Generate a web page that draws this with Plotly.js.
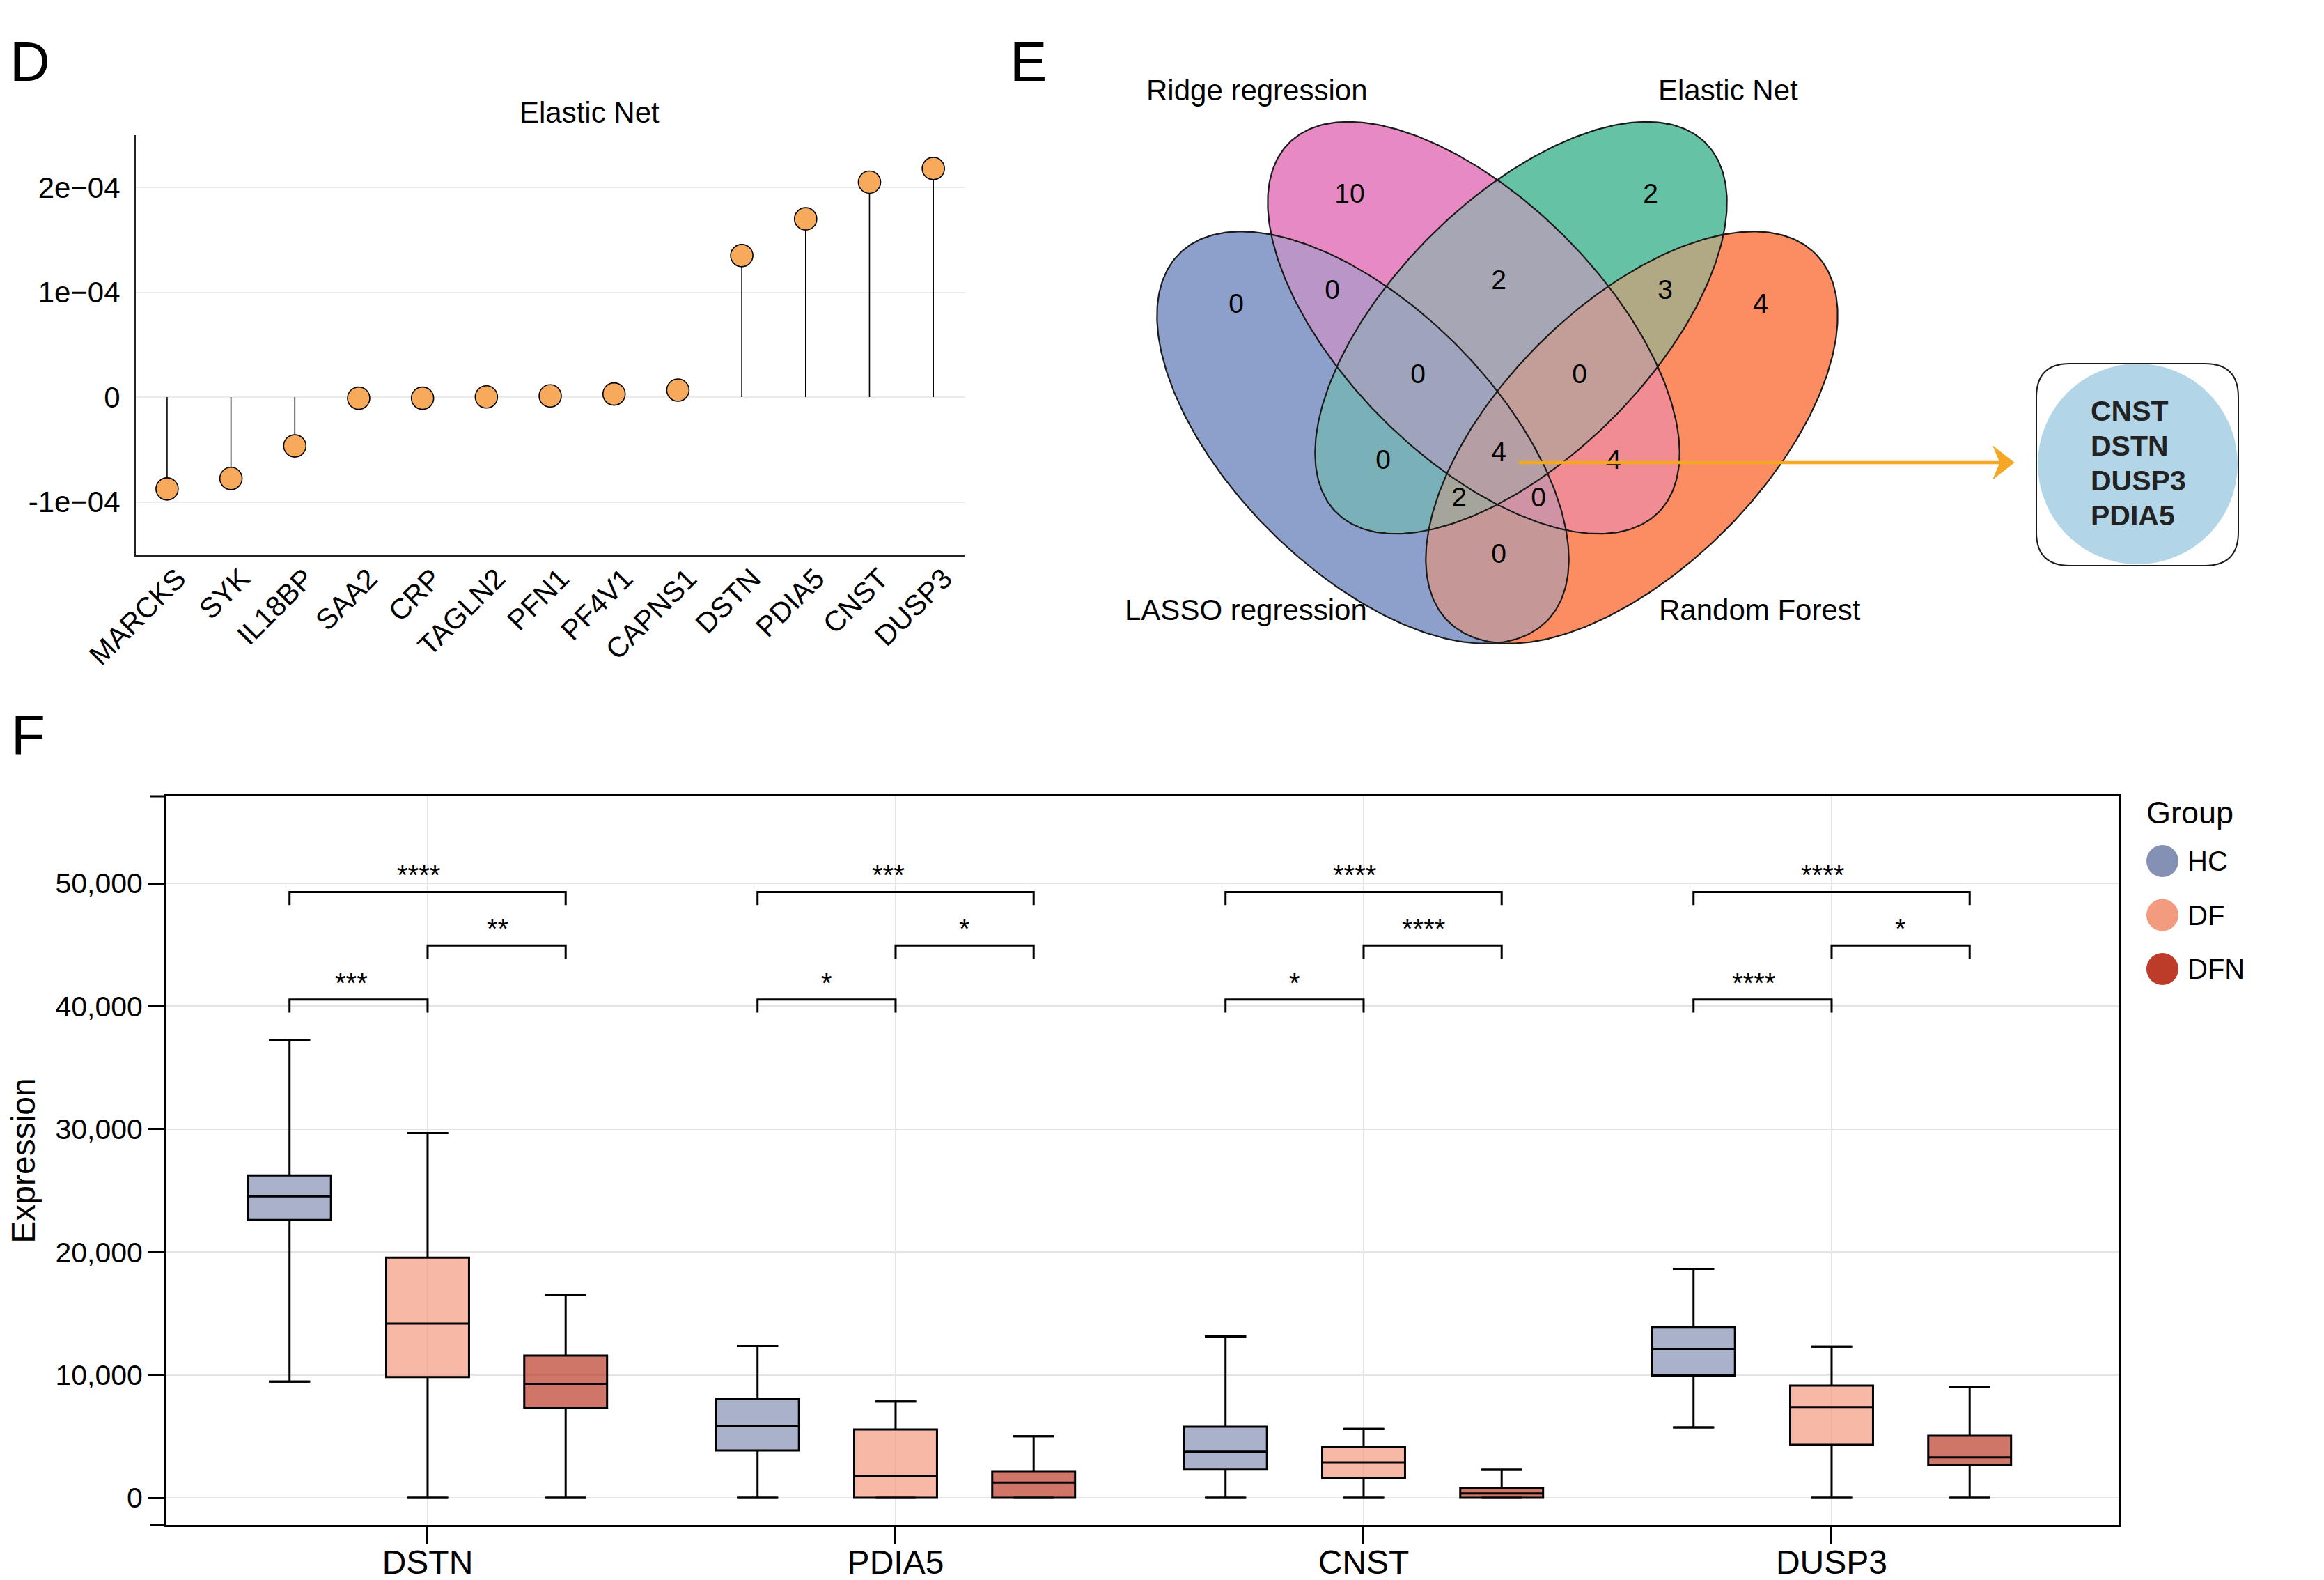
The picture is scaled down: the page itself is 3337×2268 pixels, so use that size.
<!DOCTYPE html>
<html><head><meta charset="utf-8">
<script src="https://cdn.plot.ly/plotly-3.0.1.min.js"></script>
<style>html,body{margin:0;padding:0;background:#fff;}#chart{width:3337px;height:2268px;}</style>
</head><body><div id="chart"></div>
<script>
const W = 3337, H = 2268;
const FONT = "Liberation Sans, Arial, Helvetica, sans-serif";

// ---------------- Panel D : Elastic Net coefficients ----------------
const enetGenes = ["MARCKS","SYK","IL18BP","SAA2","CRP","TAGLN2","PFN1","PF4V1","CAPNS1","DSTN","PDIA5","CNST","DUSP3"];
const enetCoef  = [-8.75e-5,-7.75e-5,-4.65e-5,-1.0e-6,-1.0e-6,0.2e-6,1.2e-6,3.0e-6,6.7e-6,1.35e-4,1.70e-4,2.05e-4,2.18e-4];
const enetTickVals = [-1e-4, 0, 1e-4, 2e-4];
const enetTickText = ["-1e\u221204", "0", "1e\u221204", "2e\u221204"];

// ---------------- Panel E : Venn diagram ----------------
const vennSetNames  = ["LASSO regression","Ridge regression","Elastic Net","Random Forest"];
const vennSetColors = ["#8DA0CB","#E78AC3","#66C2A5","#FC8D62"];
// region membership: L = LASSO, R = Ridge, E = Elastic Net, F = Random Forest
const vennRegions = ["R","E","L","F","LR","RE","EF","LRE","REF","LE","LREF","RF","LEF","LRF","LF"];
const vennCounts  = [10, 2, 0, 4, 0, 2, 3, 0, 0, 0, 4, 4, 2, 0, 0];
const sharedGenes = ["CNST","DSTN","DUSP3","PDIA5"];

// ---------------- Panel F : box plots ----------------
const boxGenes = ["DSTN","PDIA5","CNST","DUSP3"];
const groups = ["HC","DF","DFN"];
const groupColors = ["#8491B4","#F39B7F","#BC3C29"];
const hcLow  = [9450, 0, 0, 5730];
const hcQ1   = [22600, 3850, 2340, 9950];
const hcMed  = [24540, 5870, 3760, 12110];
const hcQ3   = [26240, 8030, 5780, 13900];
const hcHigh = [37250, 12390, 13120, 18620];
const dfLow  = [0, 0, 0, 0];
const dfQ1   = [9820, 0, 1610, 4310];
const dfMed  = [14170, 1790, 2890, 7390];
const dfQ3   = [19540, 5550, 4130, 9130];
const dfHigh = [29680, 7840, 5600, 12290];
const dfnLow  = [0, 0, 0, 0];
const dfnQ1   = [7340, 0, 0, 2660];
const dfnMed  = [9270, 1240, 350, 3300];
const dfnQ3   = [11560, 2160, 790, 5050];
const dfnHigh = [16510, 5000, 2330, 9040];
// significance comparisons: [group a, group b] and labels per gene
const sigPairs  = [[0,2],[1,2],[0,1]];
const sigLevels = [49300, 44950, 40550];
const sigLabels = [["****","**","***"],["***","*","*"],["****","****","*"],["****","*","****"]];

// ---------------- helpers ----------------
function hexRgb(h){ return [parseInt(h.slice(1,3),16), parseInt(h.slice(3,5),16), parseInt(h.slice(5,7),16)]; }
function rgba(h,a){ const c = hexRgb(h); return `rgba(${c[0]},${c[1]},${c[2]},${a})`; }
const px = x => x / W, py = y => 1 - y / H;

const traces = [];
const shapes = [];
const annotations = [];

// ================= Panel D =================
const stemX = [], stemY = [];
enetGenes.forEach((g,i) => { stemX.push(g, g, null); stemY.push(0, enetCoef[i], null); });
traces.push({type:'scatter', mode:'lines', x:stemX, y:stemY, xaxis:'x', yaxis:'y',
  line:{color:'#000', width:1.6}, hoverinfo:'skip', showlegend:false});
traces.push({type:'scatter', mode:'markers', x:enetGenes, y:enetCoef, xaxis:'x', yaxis:'y',
  marker:{size:32, color:'#F8AA5C', line:{color:'#000', width:1.6}}, hoverinfo:'skip', showlegend:false});
annotations.push({xref:'x2', yref:'y2', x:846, y:161, text:'Elastic Net', showarrow:false,
  xanchor:'center', yanchor:'middle', font:{size:42}});

// ================= Panel E (page-pixel overlay axes x2/y2) =================
const ellipses = [
  {cx:1957, cy:628,   a:373, b:189, ang: 45},   // LASSO
  {cx:2116, cy:470.5, a:375, b:185, ang: 45},   // Ridge
  {cx:2184, cy:470.5, a:375, b:185, ang:-45},   // Elastic Net
  {cx:2343, cy:628,   a:373, b:189, ang:-45}    // Random Forest
];
ellipses.forEach(e => { const t = e.ang*Math.PI/180; e.c = Math.cos(t); e.s = Math.sin(t); });
function inside(e, x, y){
  const dx = x - e.cx, dy = y - e.cy;
  const u = dx*e.c + dy*e.s, v = -dx*e.s + dy*e.c;
  return (u*u)/(e.a*e.a) + (v*v)/(e.b*e.b) <= 1;
}
const setRgb = vennSetColors.map(hexRgb);
const IX0 = 1652, IX1 = 2648, IY0 = 165, IY1 = 934;
const img = [];
for (let y = IY0; y <= IY1; y++) {
  const row = new Array(IX1 - IX0 + 1);
  for (let x = IX0; x <= IX1; x++) {
    let r = 0, g = 0, b = 0, n = 0;
    for (let k = 0; k < 4; k++) {
      if (inside(ellipses[k], x + 0.5, y + 0.5)) { r += setRgb[k][0]; g += setRgb[k][1]; b += setRgb[k][2]; n++; }
    }
    row[x - IX0] = n ? [Math.round(r/n), Math.round(g/n), Math.round(b/n), 1] : [255,255,255,0];
  }
  img.push(row);
}
traces.push({type:'image', xaxis:'x2', yaxis:'y2', x0:IX0 + 0.5, y0:IY0 + 0.5, dx:1, dy:1,
  z:img, colormodel:'rgba', hoverinfo:'skip'});
ellipses.forEach(e => {
  const ex = [], ey = [];
  for (let i = 0; i <= 360; i++) {
    const t = i*Math.PI/180;
    ex.push(e.cx + e.a*Math.cos(t)*e.c - e.b*Math.sin(t)*e.s);
    ey.push(e.cy + e.a*Math.cos(t)*e.s + e.b*Math.sin(t)*e.c);
  }
  traces.push({type:'scatter', mode:'lines', x:ex, y:ey, xaxis:'x2', yaxis:'y2',
    line:{color:'#1a1a1a', width:2.2}, hoverinfo:'skip', showlegend:false});
});
// label anchor for each region (page pixels)
const vennLabelX = [1938, 2370, 1775, 2528, 1913, 2152, 2391, 2036, 2268, 1986, 2152, 2317, 2095, 2209, 2152];
const vennLabelY = [ 281,  281,  439,  439,  419,  405,  419,  540,  540,  663,  652,  663,  717,  717,  798];
traces.push({type:'scatter', mode:'text', x:vennLabelX, y:vennLabelY, text:vennCounts.map(String),
  xaxis:'x2', yaxis:'y2', textfont:{size:39, color:'#000'}, hoverinfo:'skip', showlegend:false});
const setLabelPos = [[1789,875],[1805,129],[2481,129],[2527,875]];
vennSetNames.forEach((s,i) => annotations.push({xref:'x2', yref:'y2', x:setLabelPos[i][0], y:setLabelPos[i][1],
  text:s, showarrow:false, xanchor:'center', yanchor:'middle', font:{size:42}}));
// arrow to result box
shapes.push({type:'line', xref:'x2', yref:'y2', x0:2181, y0:664, x1:2872, y1:664, line:{color:'#F5A623', width:4.5}});
shapes.push({type:'path', xref:'x2', yref:'y2', path:'M2892,664 L2862,640.5 L2872,664 L2862,687.5 Z',
  fillcolor:'#F5A623', line:{color:'#F5A623', width:1}});
// result box
shapes.push({type:'circle', xref:'x2', yref:'y2', x0:2926, x1:3213, y0:522, y1:810,
  fillcolor:'#B2D6E8', line:{width:0}});
(function(){
  const x0=2924, x1=3214, y0=522, y1=812, r=48;
  shapes.push({type:'path', xref:'x2', yref:'y2',
    path:`M${x0+r},${y0} L${x1-r},${y0} Q${x1},${y0} ${x1},${y0+r} L${x1},${y1-r} Q${x1},${y1} ${x1-r},${y1} L${x0+r},${y1} Q${x0},${y1} ${x0},${y1-r} L${x0},${y0+r} Q${x0},${y0} ${x0+r},${y0} Z`,
    line:{color:'#1a1a1a', width:2}});
})();
sharedGenes.forEach((g,i) => annotations.push({xref:'x2', yref:'y2', x:3000, y:590 + i*50, text:'<b>'+g+'</b>',
  showarrow:false, xanchor:'left', yanchor:'middle', font:{size:41, color:'#222'}}));

// ================= Panel F =================
const offsets = [-0.295, 0, 0.295];
const boxW = 0.177, capHalf = 0.043;
const stats = [[hcLow,hcQ1,hcMed,hcQ3,hcHigh],[dfLow,dfQ1,dfMed,dfQ3,dfHigh],[dfnLow,dfnQ1,dfnMed,dfnQ3,dfnHigh]];
const capX = [], capY = [];
groups.forEach((gname, gi) => {
  const [lo,q1,md,q3,hi] = stats[gi];
  const xs = boxGenes.map((_,i) => i + offsets[gi]);
  traces.push({type:'box', name:gname, xaxis:'x3', yaxis:'y3', x:xs, q1:q1, median:md, q3:q3,
    lowerfence:lo, upperfence:hi, width:boxW, boxpoints:false,
    fillcolor:rgba(groupColors[gi],0.7), line:{color:'#000', width:3}, hoverinfo:'skip', showlegend:false});
  xs.forEach((x,i) => {
    capX.push(x-capHalf, x+capHalf, null, x-capHalf, x+capHalf, null);
    capY.push(hi[i], hi[i], null, lo[i], lo[i], null);
  });
});
traces.push({type:'scatter', mode:'lines', x:capX, y:capY, xaxis:'x3', yaxis:'y3',
  line:{color:'#000', width:3}, hoverinfo:'skip', showlegend:false});
// significance brackets
const drop = 1070;
const starShift = {"*":0, "**":1, "***":-10, "****":-13};   // label nudge in px, as in the figure
const brX = [], brY = [];
boxGenes.forEach((g,gi) => {
  sigPairs.forEach((p,k) => {
    const xa = gi + offsets[p[0]], xb = gi + offsets[p[1]], lv = sigLevels[k];
    brX.push(xa, xa, xb, xb, null); brY.push(lv-drop, lv, lv, lv-drop, null);
    const lab = sigLabels[gi][k];
    annotations.push({xref:'x3', yref:'y3', x:(xa+xb)/2, y:lv, text:lab, showarrow:false,
      xanchor:'center', yanchor:'bottom', xshift:starShift[lab], font:{size:40}});
  });
});
traces.push({type:'scatter', mode:'lines', x:brX, y:brY, xaxis:'x3', yaxis:'y3',
  line:{color:'#000', width:3}, hoverinfo:'skip', showlegend:false});
// left extensions of top/bottom frame
[1143, 2189].forEach(y => shapes.push({type:'line', xref:'paper', yref:'paper', x0:px(216), x1:px(239), y0:py(y), y1:py(y),
  line:{color:'#000', width:3}}));
// manual legend
annotations.push({xref:'x2', yref:'y2', x:3080, y:1166, text:'Group', showarrow:false, xanchor:'left', yanchor:'middle', font:{size:45}});
traces.push({type:'scatter', mode:'markers', x:groups.map(()=>3105), y:groups.map((_,i)=>1236 + i*77.5),
  xaxis:'x2', yaxis:'y2', marker:{size:46, color:groupColors}, hoverinfo:'skip', showlegend:false});
groups.forEach((gname,i) => annotations.push({xref:'x2', yref:'y2', x:3139, y:1236 + i*77.5, text:gname,
  showarrow:false, xanchor:'left', yanchor:'middle', font:{size:40}}));

// panel letters
[['D',12,88],['E',1448,88],['F',14,1055]].forEach(([t,x,y]) => annotations.push({xref:'x2', yref:'y2', x:x, y:y, text:t,
  showarrow:false, xanchor:'left', yanchor:'middle', font:{size:80}}));

const layout = {
  width:W, height:H, margin:{l:0, r:0, t:0, b:0, pad:0},
  paper_bgcolor:'#ffffff', plot_bgcolor:'rgba(0,0,0,0)', showlegend:false, boxmode:'overlay',
  font:{family:FONT, color:'#000'},
  xaxis:{domain:[px(195), px(1386)], anchor:'y', type:'category', categoryorder:'array', categoryarray:enetGenes,
    range:[-0.49, 12.5], showline:true, linecolor:'#222', linewidth:2, showgrid:false, zeroline:false,
    ticks:'outside', ticklen:10, tickcolor:'rgba(0,0,0,0)', tickangle:-45, tickfont:{size:41},
    ticklabelstandoff:-19, ticklabelshift:15},
  yaxis:{domain:[py(797), py(194)], anchor:'x', range:[-1.507e-4, 2.498e-4], tickmode:'array',
    tickvals:enetTickVals, ticktext:enetTickText, showline:true, linecolor:'#222', linewidth:2,
    showgrid:true, gridcolor:'#EBEBEB', gridwidth:2, zeroline:false,
    ticks:'outside', ticklen:12, tickcolor:'rgba(0,0,0,0)', tickfont:{size:42}},
  xaxis2:{domain:[0,1], anchor:'y2', range:[0,W], visible:false},
  yaxis2:{domain:[0,1], anchor:'x2', range:[H,0], visible:false},
  xaxis3:{domain:[px(239), px(3043)], anchor:'y3', range:[-0.558, 3.6146], tickmode:'array',
    tickvals:[0,1,2,3], ticktext:boxGenes, showline:true, mirror:true, linecolor:'#000', linewidth:3,
    ticks:'outside', ticklen:24, tickwidth:3, tickcolor:'#000', showgrid:true, gridcolor:'#E4E4E4', gridwidth:2.5,
    zeroline:false, tickfont:{size:48}, ticklabelstandoff:-15},
  yaxis3:{domain:[py(2189), py(1143)], anchor:'x3', range:[-2210, 57090], tick0:0, dtick:10000, tickformat:',',
    showline:true, mirror:true, linecolor:'#000', linewidth:3, ticks:'outside', ticklen:23, tickwidth:3,
    tickcolor:'#000', showgrid:true, gridcolor:'#E4E4E4', gridwidth:2.5, zeroline:false, tickfont:{size:41},
    title:{text:'Expression', font:{size:48}, standoff:14}},
  shapes:shapes, annotations:annotations
};
Plotly.newPlot('chart', traces, layout, {staticPlot:true, displayModeBar:false});
</script></body></html>
